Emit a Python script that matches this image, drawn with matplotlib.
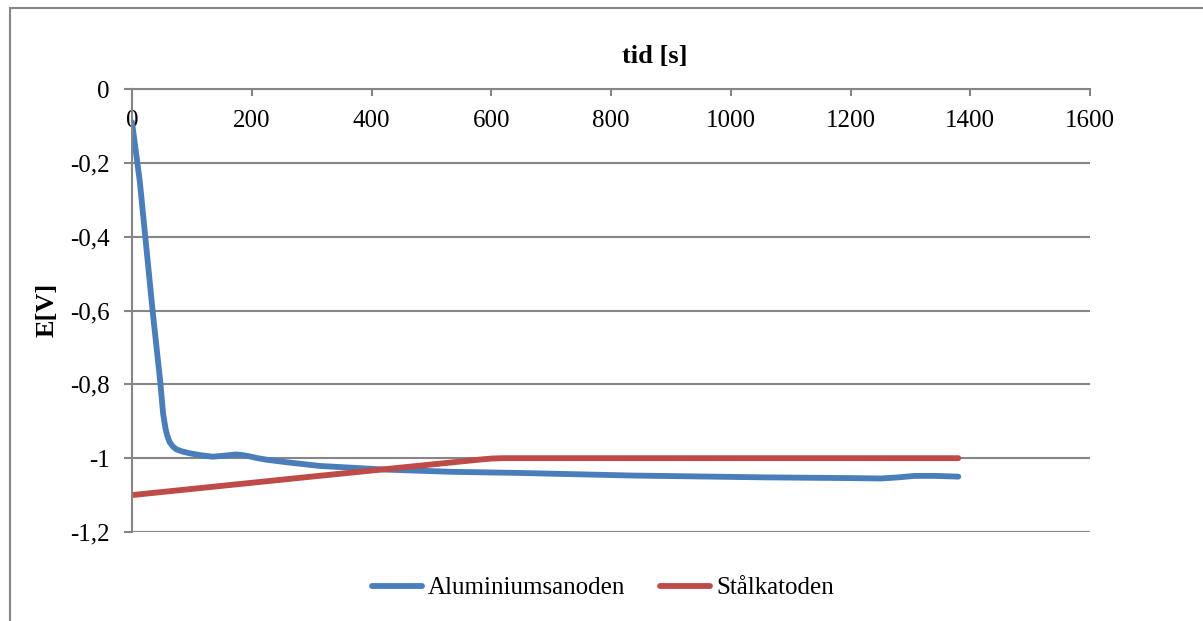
import matplotlib
matplotlib.use("Agg")
import matplotlib.pyplot as plt
from matplotlib.patches import Rectangle

# Potential over time, aluminium anode and steel cathode
tid_al = [0, 13, 24, 35, 47, 52, 56, 59, 63, 68, 74, 84, 97, 115, 135, 155, 174, 186, 196, 210,
          224, 258, 313, 424, 535, 646, 834, 1057, 1200, 1251, 1280, 1307, 1340, 1380]
e_al = [-0.09, -0.25, -0.43, -0.61, -0.79, -0.88, -0.92, -0.94, -0.957, -0.968, -0.976, -0.982,
        -0.987, -0.992, -0.996, -0.993, -0.99, -0.992, -0.995, -1.0, -1.004, -1.011, -1.021,
        -1.031, -1.037, -1.04, -1.047, -1.052, -1.054, -1.055, -1.052, -1.048, -1.048, -1.05]

tid_st = [0, 300, 580, 600, 620, 1380]
e_st = [-1.1, -1.05, -1.004, -1.001, -1.0, -1.0]

x_ticks = [0, 200, 400, 600, 800, 1000, 1200, 1400, 1600]
y_ticks = [0, -0.2, -0.4, -0.6, -0.8, -1.0, -1.2]
y_labels = ["0", "-0,2", "-0,4", "-0,6", "-0,8", "-1", "-1,2"]

plt.rcParams['font.family'] = ['Liberation Serif', 'DejaVu Serif']
grey = "#868686"

W, H = 1203, 621
fig = plt.figure(figsize=(W / 100, H / 100), dpi=100)
ax = fig.add_axes([132 / W, 1 - 532 / H, (1090 - 132) / W, (532 - 89) / H])

ax.plot(tid_al, e_al, color="#4A7EBB", lw=4.2, label="Aluminiumsanoden",
        solid_capstyle="round", solid_joinstyle="round")
ax.plot(tid_st, e_st, color="#BE4B48", lw=4.2, label="Stålkatoden",
        solid_capstyle="round", solid_joinstyle="round")

ax.set_xlim(0, 1600)
ax.set_ylim(-1.2, 0)
ax.set_xticks(x_ticks)
ax.set_yticks(y_ticks)
ax.set_yticklabels(y_labels)

# x axis sits at E = 0, labels below the line
ax.spines['bottom'].set_position(('data', 0))
ax.spines['top'].set_visible(False)
ax.spines['right'].set_visible(False)
for s in ('bottom', 'left'):
    ax.spines[s].set_color(grey)
    ax.spines[s].set_linewidth(1.5)

ax.tick_params(axis='x', direction='out', length=5, width=1.5, color=grey, pad=10, labelsize=18)
ax.tick_params(axis='y', direction='out', length=6, width=1.5, color=grey, pad=10, labelsize=18)
ax.yaxis.grid(True, color=grey, lw=1.5)
ax.set_axisbelow(True)

fig.text(655 / W, 1 - 57 / H, "tid [s]", fontsize=19, fontweight='bold', ha='center', va='center')
fig.text(47 / W, 1 - 310 / H, "E[V]", fontsize=19, fontweight='bold', rotation=90, ha='center', va='center')

fig.legend(loc='center', bbox_to_anchor=(603 / W, 1 - 588 / H), ncol=2, frameon=False, fontsize=18,
           handlelength=2.0, handletextpad=0.25, columnspacing=1.4)

fig.patches.append(Rectangle((10 / W, -0.1), 1.2, 1.1 - 8 / H, transform=fig.transFigure,
                             fill=False, edgecolor=grey, lw=1.5))

fig.savefig("out.png", dpi=100)
